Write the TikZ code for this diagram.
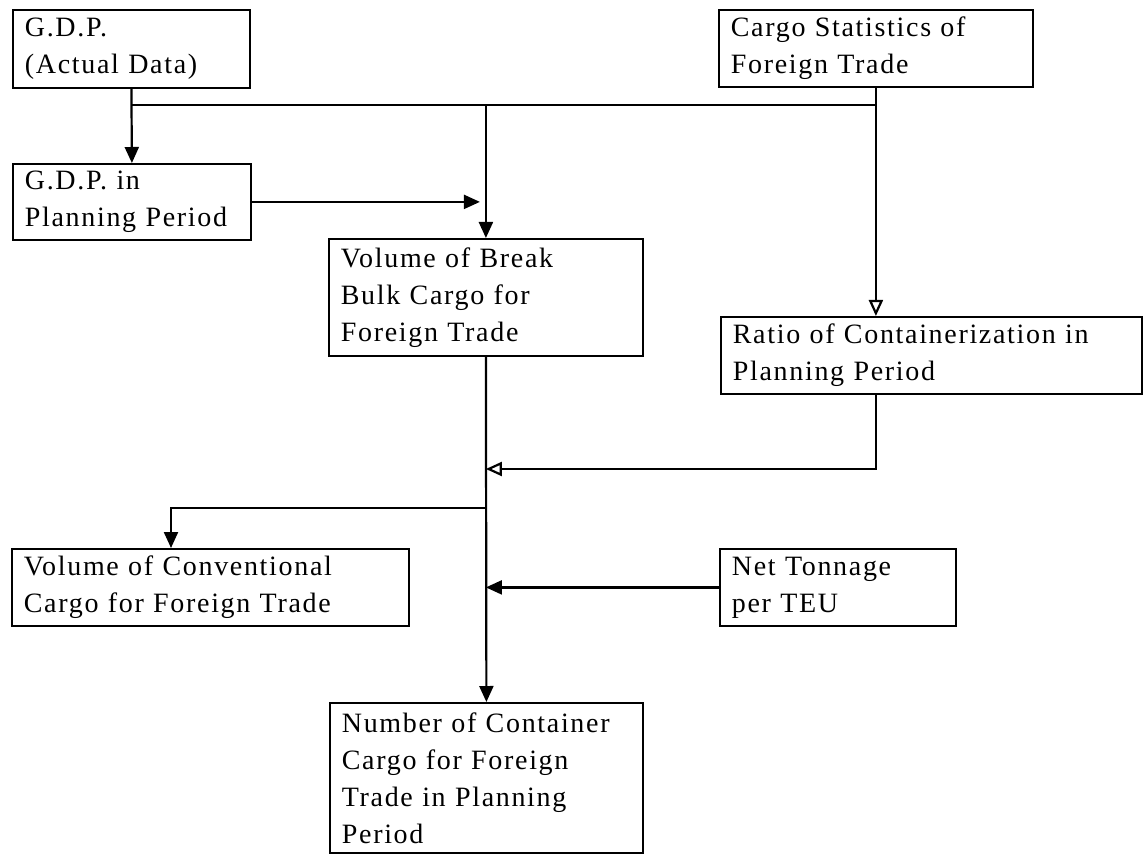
\documentclass[tikz,border=0pt]{standalone}
\usepackage{fontspec}
\setmainfont{Liberation Serif}[LetterSpace=6]
\usetikzlibrary{arrows.meta}

\begin{document}
\begin{tikzpicture}[x=0.5pt,y=-0.5pt,
  box/.style={draw,line width=0.9pt,anchor=north west,align=left,inner xsep=6pt,inner ysep=2pt,font=\fontsize{14}{18.5}\selectfont},
  flow/.style={line width=1.1pt,-{Triangle[length=8pt,width=7pt]}},
  oflow/.style={line width=1.1pt,-{Triangle[open,length=8pt,width=7pt]}}]
\useasboundingbox (0,0) rectangle (1143,854);

\node[box,text width=106.5pt,minimum height=39pt] (gdpa) at (12,9) {G.D.P.\\(Actual Data)};
\node[box,text width=107pt,minimum height=38pt] (gdpp) at (12,163) {G.D.P. in\\Planning Period};
\node[box,text width=145pt,minimum height=38.5pt] (cargo) at (718,9) {Cargo Statistics of\\Foreign Trade};
\node[box,text width=145pt,minimum height=58.5pt] (bb) at (328,238) {Volume of Break\\Bulk Cargo for\\Foreign Trade};
\node[box,text width=198.5pt,minimum height=38.5pt] (ratio) at (720,316) {Ratio of Containerization in\\Planning Period};
\node[box,text width=186.5pt,minimum height=38.5pt] (conv) at (11,548) {Volume of Conventional\\Cargo for Foreign Trade};
\node[box,text width=106pt,minimum height=38.5pt] (ton) at (719,548) {Net Tonnage\\per TEU};
\node[box,text width=144.5pt,minimum height=75pt] (num) at (329,702) {Number of Container\\Cargo for Foreign\\Trade in Planning\\Period};

\coordinate (trunk) at (0,105);
\coordinate (join) at (0,469);
\coordinate (split) at (171,508);

\draw[line width=1.1pt] (gdpa.south |- trunk) -- (cargo.south |- trunk);
\draw[flow] (gdpa.south) -- (gdpp.north);
\draw[flow] (bb.north |- trunk) -- (bb.north);
\draw[oflow] (cargo.south) -- (cargo.south |- ratio.north);
\draw[flow,shorten >=3pt] (gdpp.east) -- (gdpp.east -| bb.north);
\draw[flow] (bb.south) -- (num.north);
\draw[oflow] (cargo.south |- ratio.south) |- (bb.south |- join);
\draw[flow] (bb.south |- split) -| (split |- conv.north);
\draw[flow] (ton.west) -- (ton.west -| bb.south);
\end{tikzpicture}
\end{document}
